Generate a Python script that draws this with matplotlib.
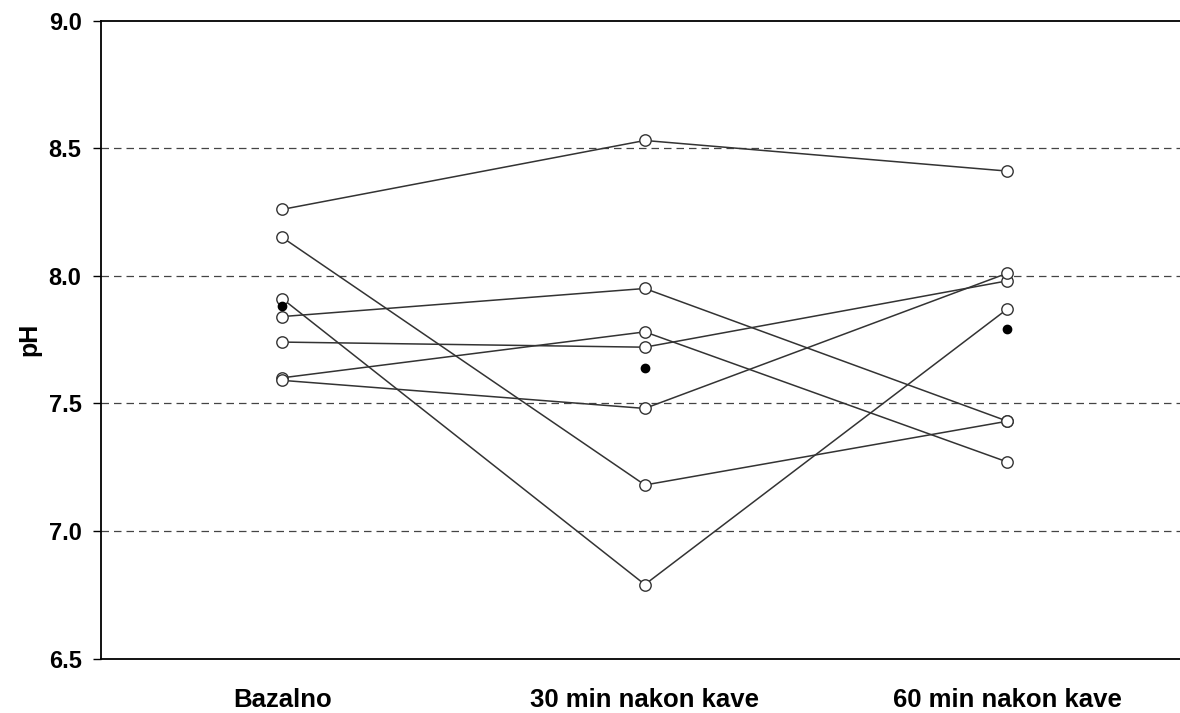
import numpy as np
import matplotlib
matplotlib.use("Agg")
import matplotlib.pyplot as plt

# pH per subject: baseline, 30 min and 60 min after coffee
timepoints = ["Bazalno", "30 min nakon kave", "60 min nakon kave"]
subject_ph = [
    [8.26, 8.53, 8.41],
    [8.15, 7.18, 7.43],
    [7.91, 6.79, 7.87],
    [7.84, 7.95, 7.43],
    [7.74, 7.72, 7.98],
    [7.60, 7.78, 7.27],
    [7.59, 7.48, 8.01],
]
mean_ph = [7.88, 7.64, 7.79]
yticks = [6.5, 7.0, 7.5, 8.0, 8.5, 9.0]
grid_levels = [7.0, 7.5, 8.0, 8.5]

plt.rcParams["font.family"] = ["Liberation Sans", "DejaVu Sans"]
plt.rcParams["font.weight"] = "bold"

fig = plt.figure(figsize=(11.8, 7.13), dpi=100)
ax = fig.add_axes([0.0856, 0.0764, 0.9218, 0.8948])

x = np.arange(len(timepoints))

# dashed reference levels
for level in grid_levels:
    ax.axhline(level, color="#444444", lw=0.9, dashes=(6, 4), zorder=1)

# one line per subject, open circles
for row in subject_ph:
    ax.plot(x, row, color="#333333", lw=1.1, marker="o", markersize=8.2,
            markerfacecolor="white", markeredgecolor="#333333",
            markeredgewidth=1.0, zorder=3)

# group means
ax.plot(x, mean_ph, linestyle="none", marker="o", markersize=6,
        color="black", zorder=4)

ax.set_xlim(-0.5, 2.5)
ax.set_ylim(6.5, 9.0)
ax.set_xticks(x)
ax.set_xticklabels(timepoints, fontsize=18.5, fontweight="bold")
ax.set_yticks(yticks)
ax.set_yticklabels([f"{v:.1f}" for v in yticks], fontsize=17, fontweight="bold")
ax.tick_params(axis="x", length=0, pad=21)
ax.tick_params(axis="y", length=6, width=1.0, pad=8, direction="out")

for side in ["left", "top", "bottom"]:
    ax.spines[side].set_linewidth(1.3)
    ax.spines[side].set_color("black")
ax.spines["right"].set_visible(False)

fig.text(0.0246, 0.524, "pH", rotation=90, ha="center", va="center",
         fontsize=18, fontweight="bold")

fig.savefig("out.png", dpi=100)
